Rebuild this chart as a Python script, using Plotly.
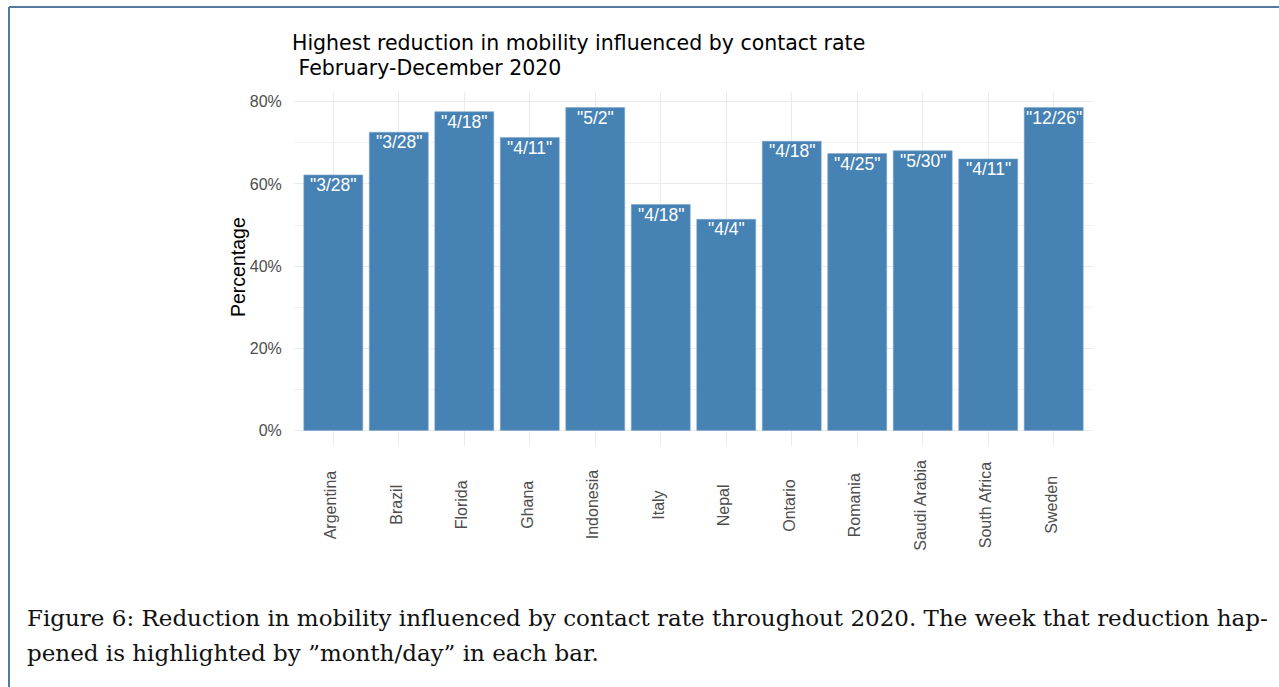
import plotly.graph_objects as go

# ---- data ----
countries = ["Argentina", "Brazil", "Florida", "Ghana", "Indonesia", "Italy",
             "Nepal", "Ontario", "Romania", "Saudi Arabia", "South Africa", "Sweden"]
reduction_pct = [62.2, 72.6, 77.6, 71.3, 78.6, 55.0, 51.4, 70.4, 67.4, 68.1, 66.1, 78.6]
week_labels = ['"3/28"', '"3/28"', '"4/18"', '"4/11"', '"5/2"', '"4/18"',
               '"4/4"', '"4/18"', '"4/25"', '"5/30"', '"4/11"', '"12/26"']
y_tick_vals = [0, 20, 40, 60, 80]
y_tick_text = ["0%", "20%", "40%", "60%", "80%"]

# ---- layout geometry (pixels) ----
W, H = 1279, 687
PL, PR, PT, PB = 294, 1093, 92, 446  # plot area box


def px_x(x):
    return (x - PL) / (PR - PL)


def px_y(y):
    return (PB - y) / (PB - PT)


SANS = "Liberation Sans, Arial, sans-serif"
TITLE_SANS = "DejaVu Sans, Liberation Sans, sans-serif"
SERIF = "DejaVu Serif, Liberation Serif, serif"

fig = go.Figure()
fig.add_trace(go.Bar(
    x=countries, y=reduction_pct, width=0.9,
    marker=dict(color="#4682B4", line=dict(width=0.6, color="#7fa6cc")),
    hoverinfo="x+y", showlegend=False,
))

annotations = []
# bar labels (white, inside top)
for c, v, t in zip(countries, reduction_pct, week_labels):
    annotations.append(dict(x=c, y=v, xref="x", yref="y", text=t, showarrow=False,
                            yanchor="middle", yshift=-10,
                            font=dict(family=SANS, size=17.5, color="white")))
# x category labels, rotated & centred
for c in countries:
    annotations.append(dict(x=c, y=px_y(505), xref="x", yref="paper", text=c,
                            showarrow=False, textangle=-90, xanchor="center",
                            yanchor="middle", xshift=-3,
                            font=dict(family=SANS, size=16, color="#4d4d4d")))
# y axis title
annotations.append(dict(x=px_x(238), y=px_y(267), xref="paper", yref="paper",
                        text="Percentage", textangle=-90, showarrow=False,
                        xanchor="center", yanchor="middle",
                        font=dict(family=SANS, size=19.5, color="black")))
# title (two lines)
annotations.append(dict(x=px_x(290), y=px_y(43), xref="paper", yref="paper",
                        text="Highest reduction in mobility influenced by contact rate",
                        showarrow=False, xanchor="left", yanchor="middle",
                        font=dict(family=TITLE_SANS, size=20.5, color="black")))
annotations.append(dict(x=px_x(290), y=px_y(67.5), xref="paper", yref="paper",
                        text="\u00a0February-December 2020",
                        showarrow=False, xanchor="left", yanchor="middle",
                        font=dict(family=TITLE_SANS, size=20.5, color="black")))
# caption
annotations.append(dict(x=px_x(25), y=px_y(618), xref="paper", yref="paper",
                        text="Figure 6: Reduction in mobility influenced by contact rate throughout 2020. "
                             "The week that reduction hap-",
                        showarrow=False, xanchor="left", yanchor="middle",
                        font=dict(family=SERIF, size=23.0, color="#111111")))
annotations.append(dict(x=px_x(25), y=px_y(653), xref="paper", yref="paper",
                        text="pened is highlighted by \u201dmonth/day\u201d in each bar.",
                        showarrow=False, xanchor="left", yanchor="middle",
                        font=dict(family=SERIF, size=23.0, color="#111111")))

shapes = [
    # figure frame (left + top visible, runs off right/bottom)
    dict(type="line", xref="paper", yref="paper", x0=px_x(9), x1=px_x(9),
         y0=px_y(7), y1=px_y(720), line=dict(color="#5577a0", width=2)),
    dict(type="line", xref="paper", yref="paper", x0=px_x(9), x1=px_x(1300),
         y0=px_y(7), y1=px_y(7), line=dict(color="#5577a0", width=2)),
]

fig.update_layout(
    width=W, height=H,
    margin=dict(l=PL, r=W - PR, t=PT, b=H - PB, autoexpand=False),
    paper_bgcolor="white", plot_bgcolor="white",
    annotations=annotations, shapes=shapes,
    bargap=0.1,
    xaxis=dict(type="category", range=[-0.6, 11.6], showticklabels=False,
               showgrid=True, gridcolor="#ebebeb", gridwidth=1.3,
               zeroline=False, showline=False, ticks=""),
    yaxis=dict(range=[-3.8, 82.4], tickvals=y_tick_vals, ticktext=y_tick_text,
               showgrid=True, gridcolor="#ebebeb", gridwidth=1.3,
               minor=dict(tickvals=[10, 30, 50, 70], showgrid=True,
                          gridcolor="#f1f1f1", gridwidth=0.8),
               zeroline=False, showline=False,
               ticks="outside", ticklen=8, tickcolor="rgba(0,0,0,0)",
               tickfont=dict(family=SANS, size=16, color="#4d4d4d")),
)

fig.write_html("out.html",
               config={"displayModeBar": False},
               post_script="document.body.style.margin='0px';"
                           "document.body.style.overflow='hidden';")
